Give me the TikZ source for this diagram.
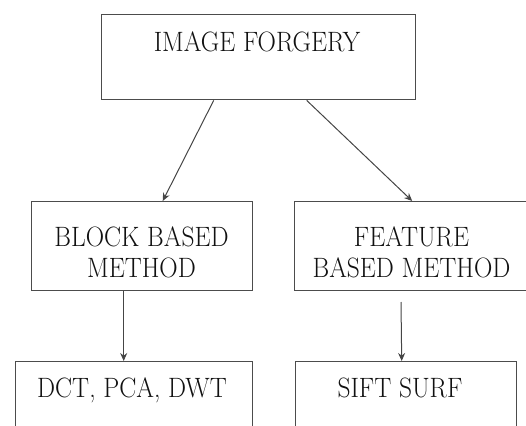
\documentclass[tikz,border=0pt]{standalone}
\usepackage{graphicx}
\usetikzlibrary{arrows.meta}
\definecolor{boxgray}{HTML}{4C4C4C}
\definecolor{linegray}{HTML}{454545}
\definecolor{inkcol}{HTML}{111111}
% narrowed, tall caption lettering
\newcommand{\caplbl}[1]{\scalebox{0.91}[1]{#1}}
\begin{document}
\begin{tikzpicture}[x=1pt,y=-1pt,
  box/.style={draw=boxgray, line width=1.4pt, rectangle, inner sep=0pt, anchor=north west},
  lbl/.style={anchor=base, inner sep=0pt, font=\rmfamily\fontsize{28}{40}\selectfont, text=inkcol},
  arr/.style={draw=linegray, line width=1pt, -{Stealth[length=8pt,width=7pt]}}]
\path[use as bounding box, clip] (0,0) rectangle (526,425);

% boxes
\node[box, minimum width=314pt, minimum height=85pt] (forgery) at (101,14) {};
\node[box, minimum width=221pt, minimum height=89pt] (block) at (31,201) {};
\node[box, minimum width=235pt, minimum height=89pt] (feature) at (294,201) {};
\node[box, minimum width=237pt, minimum height=100pt] (dct) at (15,361) {};
\node[box, minimum width=221pt, minimum height=100pt] (sift) at (295,361) {};

% labels
\node[lbl] (forgerytxt) at (257,52) {\caplbl{IMAGE FORGERY}};
\node[lbl] (blocktxta) at (141.5,246) {\caplbl{BLOCK BASED}};
\node[lbl] (blocktxtb) at (141.5,277) {\caplbl{METHOD}};
\node[lbl] (featuretxta) at (411.5,246) {\caplbl{FEATURE}};
\node[lbl] (featuretxtb) at (411.5,277) {\caplbl{BASED METHOD}};
\node[lbl] (dcttxt) at (132,397) {\caplbl{DCT, PCA, DWT}};
\node[lbl] (sifttxt) at (400,397) {\caplbl{SIFT SURF}};

% connectors
\coordinate (siftstart) at (401,302);
\draw[arr] ([xshift=-45pt]forgery.south) -- ([xshift=20.5pt]block.north);
\draw[arr] ([xshift=48pt]forgery.south) -- (feature.north);
\draw[arr] ([xshift=-18.5pt]block.south) -- ([xshift=-10.5pt]dct.north);
\draw[arr] (siftstart) -- ([xshift=-4.5pt]sift.north);
\end{tikzpicture}
\end{document}
